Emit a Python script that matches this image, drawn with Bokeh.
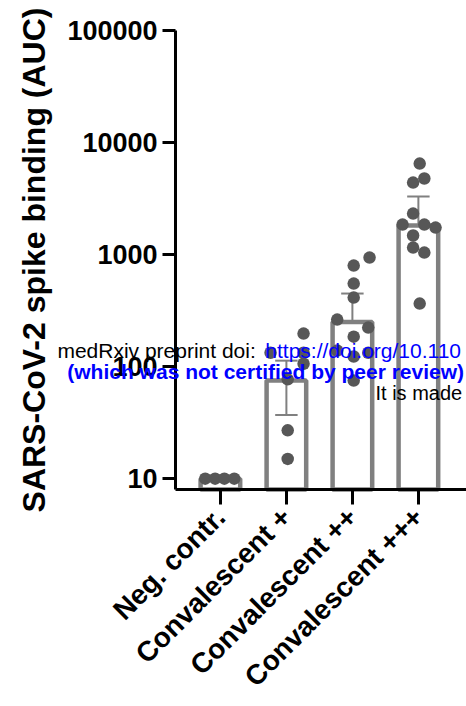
import math
from bokeh.plotting import figure
from bokeh.models import Range1d, FixedTicker, PrintfTickFormatter, Label
from bokeh.embed import file_html
from bokeh.resources import INLINE

# ---- data ----
categories = ["Neg. contr.", "Convalescent +", "Convalescent ++", "Convalescent +++"]
means = [10, 75, 250, 1815]
err_lower = [10, 37, 250, 1815]
err_upper = [10, 113, 449, 3297]

neg_values = [10, 10, 10, 10]
conv1_values = [197, 133, 106, 133, 77, 27, 15]
conv2_values = [940, 798, 551, 413, 263, 223, 185, 139, 133, 123, 75]
conv3_values = [6494, 4394, 4775, 2323, 1853, 1853, 1742, 1479, 1155, 1042, 365]

y_ticks = [10, 100, 1000, 10000, 100000]
y_axis_min, y_axis_max = 8, 100000

# horizontal scatter offsets of the dots (layout only)
neg_offsets = [-0.23, -0.08, 0.06, 0.21]
conv1_offsets = [0.26, 0.26, 0.26, -0.24, 0.02, 0.02, 0.02]
conv2_offsets = [0.26, 0.02, 0.02, 0.02, -0.23, 0.24, 0.02, -0.23, 0.24, 0.02, 0.02]
conv3_offsets = [0.02, -0.08, 0.09, -0.08, -0.24, 0.09, 0.26, -0.08, -0.08, 0.09, 0.02]

BAR = "#808080"
DOT = "#575757"
FONT = "Liberation Sans"

xs = list(range(len(categories)))
x_axis_left, x_axis_right = -0.68, 3.729

# the frame covers the whole canvas; axes are pinned at fixed locations
p = figure(
    output_backend="svg", toolbar_location=None,
    frame_width=466, frame_height=706,
    min_border_left=0, min_border_right=0, min_border_top=0, min_border_bottom=0,
    x_range=Range1d(-3.332, 3.729), y_range=Range1d(0.0925, 185300),
    y_axis_type="log",
)
p.outline_line_color = None
p.background_fill_color = "white"
p.border_fill_color = "white"
p.xgrid.visible = False
p.ygrid.visible = False

p.vbar(x=xs, top=means, bottom=y_axis_min, width=0.6, fill_color="white",
       line_color=BAR, line_width=4.5)

p.segment(x0=xs, y0=err_lower, x1=xs, y1=err_upper, line_color=BAR, line_width=2)
cap = 0.17
p.segment(x0=[x - cap for x in xs], y0=err_upper, x1=[x + cap for x in xs], y1=err_upper,
          line_color=BAR, line_width=2)
p.segment(x0=[x - cap for x in xs], y0=err_lower, x1=[x + cap for x in xs], y1=err_lower,
          line_color=BAR, line_width=2)

groups = [(neg_values, neg_offsets), (conv1_values, conv1_offsets),
          (conv2_values, conv2_offsets), (conv3_values, conv3_offsets)]
for i, (vals, offs) in enumerate(groups):
    p.scatter(x=[i + o for o in offs], y=vals, size=12.5, fill_color=DOT, line_color=None)

yax = p.yaxis[0]
yax.fixed_location = x_axis_left
yax.bounds = (y_axis_min, y_axis_max)
yax.ticker = FixedTicker(ticks=y_ticks, minor_ticks=[])
yax.formatter = PrintfTickFormatter(format="%d")
yax.axis_label = "SARS-CoV-2 spike binding (AUC)"
yax.axis_label_text_font = FONT
yax.axis_label_text_font_style = "bold"
yax.axis_label_text_font_size = "32px"
yax.axis_label_text_color = "black"
yax.axis_label_standoff = 12
yax.major_label_text_font = FONT
yax.major_label_text_font_style = "bold"
yax.major_label_text_font_size = "27px"
yax.major_label_text_color = "black"
yax.major_label_standoff = 5
yax.axis_line_width = 3
yax.axis_line_color = "black"
yax.major_tick_line_width = 3
yax.major_tick_out = 13
yax.major_tick_in = 0
yax.minor_tick_out = 0
yax.minor_tick_in = 0

xax = p.xaxis[0]
xax.fixed_location = y_axis_min
xax.bounds = (x_axis_left, x_axis_right)
xax.ticker = FixedTicker(ticks=xs)
xax.major_label_overrides = {i: c for i, c in enumerate(categories)}
xax.major_label_orientation = math.pi / 4
xax.major_label_text_font = FONT
xax.major_label_text_font_style = "bold"
xax.major_label_text_font_size = "28px"
xax.major_label_text_color = "black"
xax.major_label_standoff = 8
xax.axis_line_width = 3
xax.axis_line_color = "black"
xax.major_tick_line_width = 3
xax.major_tick_out = 15
xax.major_tick_in = 0
xax.minor_tick_out = 0

# medRxiv watermark overlay (only the part visible in the reference)
def lab(x, y, text, color, bold=False, size="21px"):
    p.add_layout(Label(x=x, y=y, text=text, text_color=color, text_font=FONT,
                       text_font_size=size, text_font_style="bold" if bold else "normal",
                       text_baseline="alphabetic", text_align="left"))

lab(-2.47, 139, "medRxiv preprint doi: ", "black")
lab(0.68, 139, "https://doi.org/10.110", "#0000ff")
lab(-2.32, 90, "(which was not certified by peer review)", "#0000ff", bold=True)
lab(2.35, 58.6, "It is made", "black", size="20px")

open("out.html", "w").write(file_html(p, INLINE))
